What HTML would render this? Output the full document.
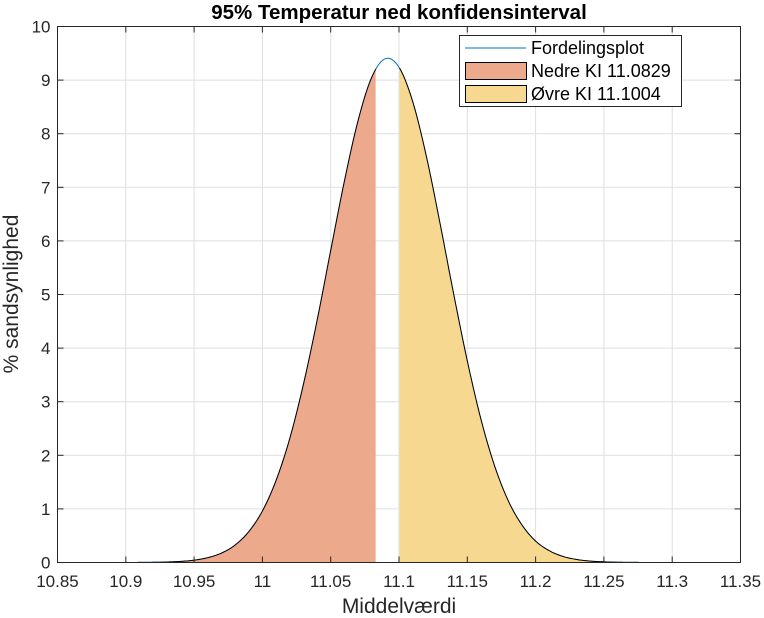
<!DOCTYPE html>
<html><head><meta charset="utf-8"><style>
html,body{margin:0;padding:0;background:#fff;}
svg{display:block;font-family:"Liberation Sans",Arial,sans-serif;}
</style></head><body>
<svg id="chart" width="764" height="618" viewBox="0 0 764 618">
<rect x="0" y="0" width="764" height="618" fill="#fff"/>
<g id="grid"></g>
<g id="marks"></g>
<rect x="57.5" y="26.5" width="683" height="536" fill="none" stroke="#262626" stroke-width="1"/>
<g id="ticks"></g>
<text x="399" y="19" text-anchor="middle" font-size="20.5" font-weight="bold" fill="#000">95% Temperatur ned konfidensinterval</text>
<text x="399" y="613" text-anchor="middle" font-size="21" fill="#262626">Middelværdi</text>
<text transform="translate(18,294) rotate(-90)" text-anchor="middle" font-size="21" fill="#262626">% sandsynlighed</text>
<g>
<rect x="459.5" y="35.5" width="222" height="71" fill="#fff" stroke="#262626" stroke-width="1"/>
<line x1="465" y1="48" x2="526" y2="48" stroke="#0072BD" stroke-width="1"/>
<text x="531" y="54" font-size="18" fill="#000">Fordelingsplot</text>
<rect x="465.5" y="62.5" width="61" height="17" fill="#EDA98C" stroke="#000"/>
<text x="531" y="77" font-size="18" fill="#000">Nedre KI 11.0829</text>
<rect x="465.5" y="85.5" width="61" height="17" fill="#F6D890" stroke="#000"/>
<text x="531" y="100" font-size="18" fill="#000">Øvre KI 11.1004</text>
</g>
</svg>
<script>
const xs=[10.89,10.90,10.91,10.92,10.93,10.94,10.95,10.96,10.97,10.98,10.99,11.00,11.01,11.02,11.03,11.04,11.05,11.06,11.07,11.08,11.09,11.10,11.11,11.12,11.13,11.14,11.15,11.16,11.17,11.18,11.19,11.20,11.21,11.22,11.23,11.24,11.25,11.26,11.27,11.28,11.29,11.30];
const ys=[0.0002,0.0005,0.0015,0.0038,0.009,0.02,0.043,0.09,0.175,0.325,0.575,0.96,1.53,2.31,3.32,4.51,5.82,7.11,8.24,9.05,9.40,9.24,8.60,7.58,6.33,5.01,3.76,2.67,1.80,1.15,0.70,0.40,0.22,0.113,0.056,0.026,0.012,0.005,0.002,0.0008,0.0003,0.0001];
const lowerCI=11.0829;
const upperCI=11.1004;
const xTicks=[10.85,10.9,10.95,11,11.05,11.1,11.15,11.2,11.25,11.3,11.35];
const xTickLabels=["10.85","10.9","10.95","11","11.05","11.1","11.15","11.2","11.25","11.3","11.35"];
const yTicks=[0,1,2,3,4,5,6,7,8,9,10];

const X0=57.5,X1=740.5,Y0=562.5,Y1=26.5;
const sx=v=>X0+(v-10.85)/(11.35-10.85)*(X1-X0);
const sy=v=>Y0-(v/10)*(Y0-Y1);
const NS='http://www.w3.org/2000/svg';
function mk(tag,attrs,parent){const e=document.createElementNS(NS,tag);for(const k in attrs)e.setAttribute(k,attrs[k]);parent.appendChild(e);return e;}
const grid=document.getElementById('grid'),ticks=document.getElementById('ticks'),marks=document.getElementById('marks');

xTicks.forEach((t,i)=>{
  const x=sx(t);
  const g=mk('line',{x1:x,y1:Y0,x2:x,y2:Y1,stroke:'#dfdfdf','stroke-width':1},grid);
  
  
  const tk=mk('line',{x1:x,y1:Y0,x2:x,y2:Y0-6,stroke:'#262626'},ticks);
  
  
  const tk2=mk('line',{x1:x,y1:Y1,x2:x,y2:Y1+6,stroke:'#262626'},ticks);
  
  
  const l=mk('text',{x:x,y:587,'text-anchor':'middle','font-size':17,fill:'#262626'},ticks);
  l.textContent=xTickLabels[i];
  
  
});
yTicks.forEach(t=>{
  const y=sy(t);
  const g=mk('line',{x1:X0,y1:y,x2:X1,y2:y,stroke:'#dfdfdf','stroke-width':1},grid);
  
  
  const tk=mk('line',{x1:X0,y1:y,x2:X0+6,y2:y,stroke:'#262626'},ticks);
  
  
  const tk2=mk('line',{x1:X1,y1:y,x2:X1-6,y2:y,stroke:'#262626'},ticks);
  
  
  const l=mk('text',{x:X0-7,y:y+6,'text-anchor':'end','font-size':17,fill:'#262626'},ticks);
  l.textContent=String(t);
  
  
});

function interp(xv){
  let i=0;while(i<xs.length-2&&xs[i+1]<xv)i++;
  const p0=ys[Math.max(i-1,0)],p1=ys[i],p2=ys[i+1],p3=ys[Math.min(i+2,ys.length-1)];
  const t=(xv-xs[i])/(xs[i+1]-xs[i]);
  const v=0.5*((2*p1)+(-p0+p2)*t+(2*p0-5*p1+4*p2-p3)*t*t+(-p0+3*p1-3*p2+p3)*t*t*t);
  return Math.max(v,0);
}
function curvePts(a,b){
  const pts=[];const n=Math.max(2,Math.ceil((b-a)/0.001));
  for(let k=0;k<=n;k++){const xv=a+(b-a)*k/n;pts.push([sx(xv),sy(interp(xv))]);}
  return pts;
}
const first=xs[0],last=xs[xs.length-1];
function area(a,b,fill,name){
  const pts=curvePts(a,b);
  let d='M'+sx(a)+','+sy(0)+' '+pts.map(p=>'L'+p[0].toFixed(2)+','+p[1].toFixed(2)).join(' ')+' L'+sx(b)+','+sy(0)+'Z';
  const p=mk('path',{d:d,fill:fill,stroke:'none'},marks);
  
  
  const e=mk('path',{d:'M'+pts.map(q=>q[0].toFixed(2)+','+q[1].toFixed(2)).join(' L'),fill:'none',stroke:'#000','stroke-width':1},marks);
  
  
}
const all=curvePts(first,last);
const line=mk('path',{d:'M'+all.map(q=>q[0].toFixed(2)+','+q[1].toFixed(2)).join(' L'),fill:'none',stroke:'#0072BD','stroke-width':1},marks);


area(first,lowerCI,'#EDA98C','lower-ci-area');
area(upperCI,last,'#F6D890','upper-ci-area');
</script>
</body></html>
